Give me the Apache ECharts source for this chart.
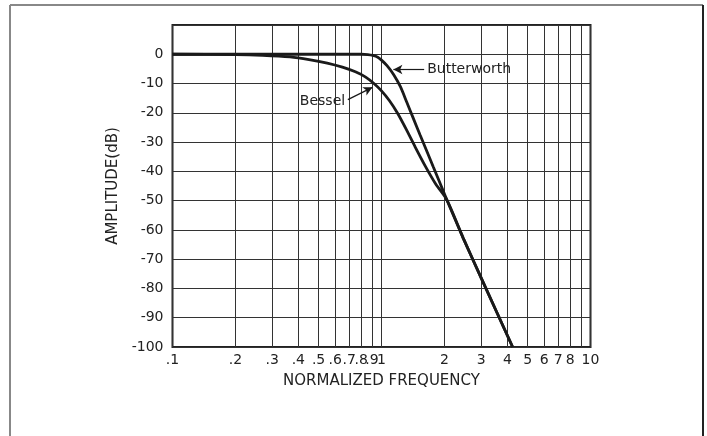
<!DOCTYPE html>
<html>
<head>
<meta charset="utf-8">
<script src="https://cdn.jsdelivr.net/npm/echarts@6/dist/echarts.min.js"></script>
<style>html,body{margin:0;padding:0;background:#fff;}#c{width:707px;height:436px;}</style>
</head>
<body>
<div id="c"></div>
<script>
const xTicks = [0.1,0.2,0.3,0.4,0.5,0.6,0.7,0.8,0.9,1,2,3,4,5,6,7,8,9,10];
const xTickLabels = ['.1','.2','.3','.4','.5','.6','.7','.8','.9','1','2','3','4','5','6','7','8','9','10'];
const yTicks = [0,-10,-20,-30,-40,-50,-60,-70,-80,-90,-100];

const butterFreq = [0.1, 0.5, 0.8, 0.86, 0.91, 0.96, 1.0, 1.06, 1.14, 1.23, 1.32, 1.42, 1.53, 1.65, 1.77, 1.9, 2.05, 2.46, 3.02, 4.24];
const butterDb   = [0, 0, 0, -0.1, -0.4, -1.0, -2.0, -3.8, -6.8, -11.0, -16.3, -21.9, -27.6, -33.2, -38.5, -43.8, -49.6, -62.8, -76.9, -100];

const besselFreq = [0.1, 0.2, 0.27, 0.365, 0.45, 0.55, 0.65, 0.75, 0.84, 0.92, 1.0, 1.09, 1.19, 1.31, 1.45, 1.62, 1.82, 2.05, 2.46, 3.02, 4.24];
const besselDb   = [0, -0.1, -0.35, -0.9, -1.8, -3.0, -4.4, -6.0, -7.8, -10.0, -12.5, -15.8, -20.0, -25.5, -31.7, -38.2, -44.4, -49.6, -62.8, -76.9, -100];

const font = 'DejaVu Sans';
const chart = echarts.init(document.getElementById('c'));
chart.setOption({
  animation: false,
  backgroundColor: '#fff',
  grid: {left: 172.5, right: 116.5, top: 25, bottom: 89, show: true, borderColor: '#222', borderWidth: 2, backgroundColor: 'transparent'},
  xAxis: {
    type: 'log', logBase: 10, min: 0.1, max: 10,
    name: 'NORMALIZED FREQUENCY', nameLocation: 'middle', nameGap: 27,
    nameTextStyle: {fontFamily: font, fontSize: 15, color: '#222'},
    axisLine: {show: false},
    axisTick: {show: false, customValues: xTicks},
    minorTick: {show: false}, minorSplitLine: {show: false},
    axisLabel: {customValues: xTicks, showMaxLabel: true, showMinLabel: true, hideOverlap: false,
      fontFamily: font, fontSize: 14, color: '#222', margin: 6,
      formatter: function (v) { const i = xTicks.findIndex(t => Math.abs(t - v) < 1e-6); return i >= 0 ? xTickLabels[i] : ''; }},
    splitLine: {show: true, lineStyle: {color: '#333', width: 1}}
  },
  yAxis: {
    type: 'value', min: -100, max: 10, interval: 10,
    name: 'AMPLITUDE(dB)', nameLocation: 'middle', nameGap: 52,
    nameTextStyle: {fontFamily: font, fontSize: 15, color: '#222'},
    axisLine: {show: false}, axisTick: {show: false},
    axisLabel: {fontFamily: font, fontSize: 14, color: '#222', margin: 9,
      formatter: function (v) { return yTicks.indexOf(v) >= 0 ? String(v) : ''; }},
    splitLine: {show: true, lineStyle: {color: '#333', width: 1}}
  },
  series: [
    {
      name: 'Butterworth', type: 'line', smooth: 0.25, symbol: 'none', clip: true,
      data: butterFreq.map((f, i) => [f, butterDb[i]]),
      lineStyle: {color: '#1a1a1a', width: 2.8},
      markLine: {
        silent: true, symbol: ['arrow', 'none'], symbolSize: [7, 9],
        lineStyle: {color: '#1a1a1a', width: 1.2, type: 'solid'},
        label: {show: true, position: 'end', formatter: 'Butterworth', fontFamily: font, fontSize: 14, color: '#222', distance: 3},
        data: [[{coord: [1.14, -5.2]}, {coord: [1.6, -5.2]}]]
      }
    },
    {
      name: 'Bessel', type: 'line', smooth: 0.25, symbol: 'none', clip: true,
      data: besselFreq.map((f, i) => [f, besselDb[i]]),
      lineStyle: {color: '#1a1a1a', width: 2.8},
      markLine: {
        silent: true, symbol: ['none', 'arrow'], symbolSize: [7, 9],
        lineStyle: {color: '#1a1a1a', width: 1.2, type: 'solid', curveness: -0.25},
        label: {show: true, position: 'start', formatter: 'Bessel', fontFamily: font, fontSize: 14, color: '#222', distance: 3},
        data: [[{coord: [0.69, -15.5]}, {coord: [0.905, -11.3]}]]
      }
    }
  ],
  graphic: [
    {type: 'line', shape: {x1: 10, y1: 5, x2: 703, y2: 5}, style: {stroke: '#888', lineWidth: 2}},
    {type: 'line', shape: {x1: 10, y1: 5, x2: 10, y2: 440}, style: {stroke: '#888', lineWidth: 2}},
    {type: 'line', shape: {x1: 703, y1: 5, x2: 703, y2: 440}, style: {stroke: '#222', lineWidth: 2}}
  ]
});
</script>
</body>
</html>
